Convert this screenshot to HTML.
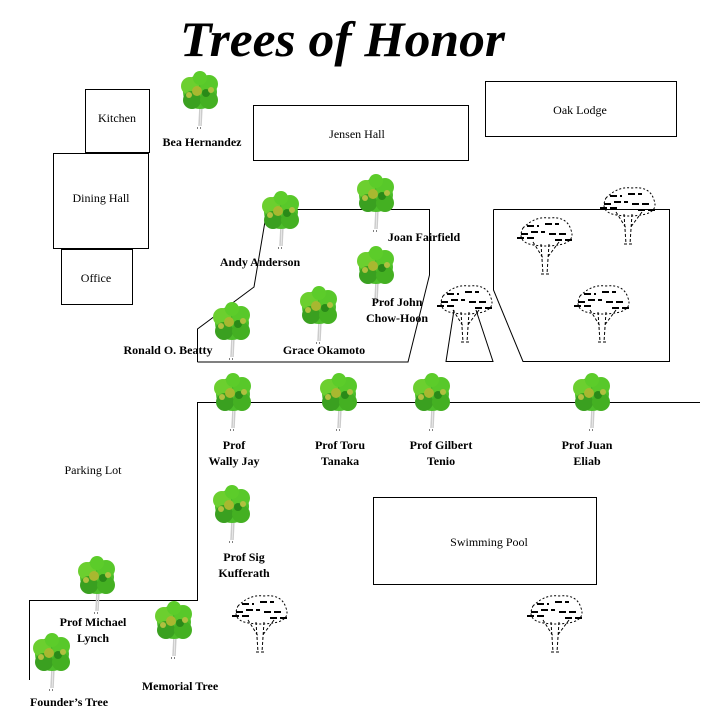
<!DOCTYPE html>
<html><head><meta charset="utf-8"><style>
html,body{margin:0;padding:0;background:#fff;width:709px;height:723px;overflow:hidden}
svg{display:block}
.l{font-family:"Liberation Serif",serif;font-weight:bold;font-size:12px;fill:#000}
.n{font-family:"Liberation Serif",serif;font-size:12px;fill:#000}
</style></head><body>
<svg width="709" height="723" viewBox="0 0 709 723" xmlns="http://www.w3.org/2000/svg">
<defs>
<g id="gt">
<path d="M19 34 L18 54 M21 34 L20 54" stroke="#ccc" stroke-width="1.5"/>
<path d="M16 56 h6" stroke="#000" stroke-width="1" stroke-dasharray="1 2"/>
<circle cx="19" cy="20" r="17" fill="#4cbd2a"/>
<circle cx="9" cy="14" r="9" fill="#6ccf2f"/>
<circle cx="28" cy="12" r="9" fill="#58c82a"/>
<circle cx="11" cy="28" r="9" fill="#3aa020"/>
<circle cx="28" cy="28" r="9" fill="#44b022"/>
<circle cx="19" cy="6" r="7" fill="#5ccc2a"/>
<circle cx="16" cy="19" r="5" fill="#a8b830"/>
<circle cx="25" cy="21" r="4" fill="#2a8a18"/>
<circle cx="8" cy="23" r="3" fill="#b0c040"/>
<circle cx="30" cy="18" r="3" fill="#b0c040"/>
</g>
<g id="bt" fill="none" stroke="#000" stroke-width="1">
<path d="M8 16 Q20 4 34 6 Q52 4 56 18 Q60 28 48 32 Q30 36 14 32 Q2 28 8 16" stroke-dasharray="2 2"/>
<path d="M2 26 H22 M12 14 H24 M30 12 H44 M34 22 H52 M16 20 H30 M40 28 H58 M6 22 H14" stroke-width="2" stroke-dasharray="7 3"/>
<path d="M26 32 L28 62 M34 32 L32 62 M18 30 L28 46 M44 30 L32 46 M26 62 h8" stroke-dasharray="3 2"/>
</g>
</defs>
<text x="180" y="56" font-family="Liberation Serif,serif" font-style="italic" font-weight="bold" font-size="50" textLength="325" lengthAdjust="spacingAndGlyphs">Trees of Honor</text>
<g fill="none" stroke="#000" stroke-width="1">
<rect x="85.5" y="89.5" width="64" height="63"/>
<rect x="53.5" y="153.5" width="95" height="95"/>
<rect x="61.5" y="249.5" width="71" height="55"/>
<rect x="253.5" y="105.5" width="215" height="55"/>
<rect x="485.5" y="81.5" width="191" height="55"/>
<rect x="373.5" y="497.5" width="223" height="87"/>
<polyline points="197.5,362 197.5,329 254,287 267,209.5 429.5,209.5 429.5,275 408,362 197.5,362"/>
<polyline points="493.5,209.5 669.5,209.5 669.5,361.5 523,361.5 493.5,290 493.5,209.5"/>
<polyline points="454,310 446,361.5 493,361.5 476,310"/>
<polyline points="700,402.5 197.5,402.5 197.5,600.5 29.5,600.5 29.5,680"/>
</g>
<text class="n" x="117" y="122" text-anchor="middle">Kitchen</text>
<text class="n" x="101" y="202" text-anchor="middle">Dining Hall</text>
<text class="n" x="96" y="282" text-anchor="middle">Office</text>
<text class="n" x="357" y="138" text-anchor="middle">Jensen Hall</text>
<text class="n" x="580" y="114" text-anchor="middle">Oak Lodge</text>
<text class="n" x="489" y="546" text-anchor="middle">Swimming Pool</text>
<text class="n" x="93" y="474" text-anchor="middle">Parking Lot</text>
<use href="#bt" x="435" y="280"/>
<use href="#bt" x="515" y="212"/>
<use href="#bt" x="598" y="182"/>
<use href="#bt" x="572" y="280"/>
<use href="#bt" x="230" y="590"/>
<use href="#bt" x="525" y="590"/>
<use href="#gt" x="181" y="72"/>
<use href="#gt" x="262" y="192"/>
<use href="#gt" x="357" y="175"/>
<use href="#gt" x="357" y="247"/>
<use href="#gt" x="300" y="287"/>
<use href="#gt" x="213" y="303"/>
<use href="#gt" x="214" y="374"/>
<use href="#gt" x="320" y="374"/>
<use href="#gt" x="413" y="374"/>
<use href="#gt" x="573" y="374"/>
<use href="#gt" x="213" y="486"/>
<use href="#gt" x="78" y="557"/>
<use href="#gt" x="155" y="602"/>
<use href="#gt" x="33" y="634"/>
<g class="l" text-anchor="middle">
<text x="202" y="146">Bea Hernandez</text>
<text x="260" y="266">Andy Anderson</text>
<text x="424" y="241">Joan Fairfield</text>
<text x="397" y="306">Prof John</text>
<text x="397" y="322">Chow-Hoon</text>
<text x="324" y="354">Grace Okamoto</text>
<text x="168" y="354">Ronald O. Beatty</text>
<text x="234" y="449">Prof</text>
<text x="234" y="465">Wally Jay</text>
<text x="340" y="449">Prof Toru</text>
<text x="340" y="465">Tanaka</text>
<text x="441" y="449">Prof Gilbert</text>
<text x="441" y="465">Tenio</text>
<text x="587" y="449">Prof Juan</text>
<text x="587" y="465">Eliab</text>
<text x="244" y="561">Prof Sig</text>
<text x="244" y="577">Kufferath</text>
<text x="93" y="626">Prof Michael</text>
<text x="93" y="642">Lynch</text>
<text x="180" y="690">Memorial Tree</text>
<text x="69" y="706">Founder’s Tree</text>
</g>
</svg>
</body></html>
